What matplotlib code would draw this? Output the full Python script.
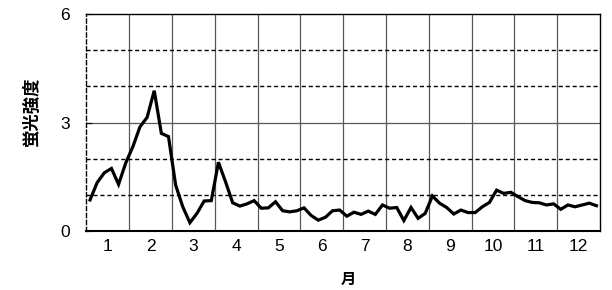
# Fluorescence intensity through the year, 72 pentads (6 per month)
import matplotlib
matplotlib.use('Agg')
import matplotlib.pyplot as plt

# data
months = ['1', '2', '3', '4', '5', '6', '7', '8', '9', '10', '11', '12']
pentads = list(range(1, 73))
intensity = [
    0.86, 1.34, 1.61, 1.73, 1.29, 1.88, 2.33, 2.88, 3.14, 3.88, 2.70, 2.61,   # Jan-Feb
    1.27, 0.67, 0.23, 0.49, 0.83, 0.84, 1.90, 1.36, 0.78, 0.69, 0.75, 0.84,   # Mar-Apr
    0.63, 0.64, 0.81, 0.56, 0.53, 0.56, 0.64, 0.43, 0.30, 0.38, 0.56, 0.58,   # May-Jun
    0.41, 0.52, 0.46, 0.55, 0.46, 0.72, 0.63, 0.65, 0.29, 0.65, 0.35, 0.49,   # Jul-Aug
    0.97, 0.77, 0.65, 0.47, 0.58, 0.51, 0.51, 0.67, 0.79, 1.13, 1.04, 1.07,   # Sep-Oct
    0.95, 0.84, 0.79, 0.78, 0.72, 0.75, 0.60, 0.72, 0.67, 0.72, 0.77, 0.70,   # Nov-Dec
]
y_ticks = [0, 3, 6]
dashed_levels = [1, 2, 4, 5]

num_font = ['Liberation Sans', 'DejaVu Sans']
jp_font = ['Noto Sans CJK JP', 'DejaVu Sans']

fig = plt.figure(figsize=(6.12, 2.9), dpi=100)
ax = fig.add_axes([0.1413, 0.2034, 0.8391, 0.7483])

# month position: pentad p sits at (p - 0.5) / 6 on a 0..12 month axis
x = [(p - 0.5) / 6 for p in pentads]

# grid: month separators, dashed levels, solid mid line
for m in range(1, 12):
    ax.axvline(m, color='0.35', linewidth=0.9, zorder=1)
for lv in dashed_levels:
    ax.axhline(lv, color='black', linewidth=1.0, linestyle=(0, (3, 2)), zorder=1)
ax.axhline(3, color='0.35', linewidth=0.9, zorder=1)

ax.plot(x, intensity, color='black', linewidth=2.3, solid_joinstyle='miter', zorder=3)

ax.set_xlim(0, 12)
ax.set_ylim(0, 6)
ax.set_yticks(y_ticks)
ax.set_yticklabels([str(t) for t in y_ticks], family=num_font, fontsize=12.5)
ax.set_xticks([m + 0.5 for m in range(12)])
ax.set_xticklabels(months, family=num_font, fontsize=12.5)
ax.tick_params(axis='x', length=0, pad=6)
ax.tick_params(axis='y', direction='in', length=4, pad=12)

for side in ['top', 'right']:
    ax.spines[side].set_linewidth(1.0)
ax.spines['bottom'].set_linewidth(1.5)
ax.spines['left'].set_linewidth(1.0)
ax.spines['left'].set_linestyle((0, (3, 2)))

ax.set_ylabel('蛍光強度', family=jp_font, fontsize=12.5, fontweight='bold', va='center')
ax.yaxis.set_label_coords(-0.106, 0.55)
ax.set_xlabel('月', family=jp_font, fontsize=11, fontweight='bold', va='center')
ax.xaxis.set_label_coords(0.509, -0.22)

fig.savefig('out.png', dpi=100)
